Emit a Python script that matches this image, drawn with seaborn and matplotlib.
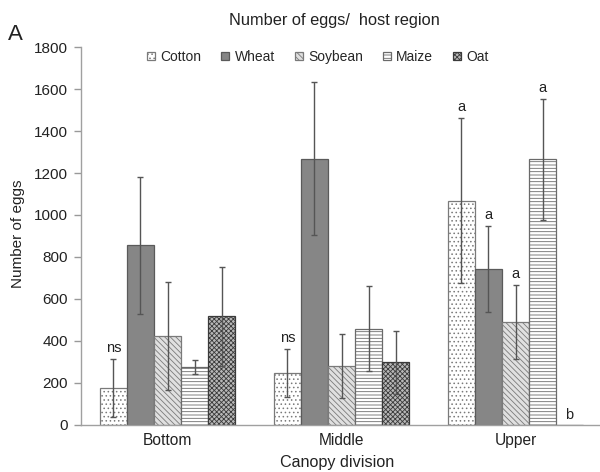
import matplotlib
matplotlib.use("Agg")
import matplotlib.pyplot as plt
import seaborn as sns
import pandas as pd
import numpy as np

categories = ["Bottom", "Middle", "Upper"]
hosts = ["Cotton", "Wheat", "Soybean", "Maize", "Oat"]
cotton = [175, 247, 1068]
cotton_err = [139, 113, 392]
wheat = [855, 1269, 743]
wheat_err = [328, 362, 204]
soybean = [424, 282, 490]
soybean_err = [258, 152, 175]
maize = [275, 458, 1265]
maize_err = [33, 203, 287]
oat = [517, 299, 0]
oat_err = [235, 150, 0]
letters = {
    "Cotton": ["ns", "ns", "a"],
    "Wheat": ["", "", "a"],
    "Soybean": ["", "", "a"],
    "Maize": ["", "", "a"],
    "Oat": ["", "", "b"],
}
yticks = [0, 200, 400, 600, 800, 1000, 1200, 1400, 1600, 1800]

values = {"Cotton": cotton, "Wheat": wheat, "Soybean": soybean, "Maize": maize, "Oat": oat}
errors = {"Cotton": cotton_err, "Wheat": wheat_err, "Soybean": soybean_err, "Maize": maize_err, "Oat": oat_err}

rows = []
for h in hosts:
    for c, v in zip(categories, values[h]):
        rows.append({"division": c, "host": h, "eggs": v})
df = pd.DataFrame(rows)

sns.set_style("white")
plt.rcParams["font.family"] = ["Liberation Sans", "DejaVu Sans"]
plt.rcParams["hatch.linewidth"] = 0.6

W, H = 600, 472
fig = plt.figure(figsize=(6, 4.72), dpi=100)
ax = fig.add_axes([80.5 / W, 47 / H, 522 / W, 378 / H])

faces = {"Cotton": "#ffffff", "Wheat": "#868686", "Soybean": "#e0e0e0", "Maize": "#ffffff", "Oat": "#b8b8b8"}
hatches = {"Cotton": "....", "Wheat": "", "Soybean": "\\\\\\\\\\\\", "Maize": "-----", "Oat": "xxxxxxx"}
hcolors = {"Cotton": "#7a7a7a", "Wheat": "#5a5a5a", "Soybean": "#7a7a7a", "Maize": "#6a6a6a", "Oat": "#3a3a3a"}

sns.barplot(data=df, x="division", y="eggs", hue="host", order=categories,
            hue_order=hosts, palette=faces, width=0.776, errorbar=None,
            ax=ax, legend=False, saturation=1)

handles = []
for h, cont in zip(hosts, ax.containers):
    for i, p in enumerate(cont.patches):
        p.set_hatch(hatches[h])
        p.set_edgecolor(hcolors[h])
        p.set_linewidth(0.9)
        x = p.get_x() + p.get_width() / 2
        v = values[h][i]
        e = errors[h][i]
        if e > 0:
            ax.errorbar(x, v, yerr=e, fmt="none", ecolor="#555555", elinewidth=1.0,
                        capsize=2.2, capthick=1.0, zorder=5)
        lab = letters[h][i]
        if lab:
            if v == 0:
                ax.annotate(lab, (x, 0), xytext=(0, 2), textcoords="offset points",
                            ha="center", va="bottom", fontsize=10.5, color="#222222")
            else:
                ax.annotate(lab, (x, v + e), xytext=(0, 3), textcoords="offset points",
                            ha="center", va="bottom", fontsize=10.5, color="#222222")
    handles.append(cont.patches[0])

ax.set_ylim(0, 1800)
ax.set_xlim(-0.5, 2.5)
ax.set_yticks(yticks)
ax.set_yticklabels([str(t) for t in yticks], fontsize=11, color="#222222")
ax.set_xticks([0, 1, 2])
ax.set_xticklabels(categories, fontsize=11.2, color="#222222")
ax.set_xticks([0.5, 1.5], minor=True)
ax.tick_params(axis="x", which="major", length=0, pad=6)
ax.tick_params(axis="x", which="minor", length=5, color="#999999", width=1, direction="out")
ax.tick_params(axis="y", length=5, color="#999999", width=1, direction="out", pad=4, left=True)
for s in ["top", "right"]:
    ax.spines[s].set_visible(False)
for s in ["left", "bottom"]:
    ax.spines[s].set_color("#a0a0a0")
    ax.spines[s].set_linewidth(1.0)
ax.set_xlabel("")
ax.set_ylabel("")

leg = fig.legend(handles=handles, labels=hosts, loc="center",
                 bbox_to_anchor=(318 / W, 1 - 57 / H), ncol=5, frameon=False,
                 fontsize=10, handlelength=0.55, handleheight=0.55, handletextpad=0.4,
                 columnspacing=1.45)

fig.text(334 / W, 1 - 20 / H, "Number of eggs/  host region", ha="center", va="center",
         fontsize=11.8, color="#222222")
fig.text(337 / W, 1 - 462 / H, "Canopy division", ha="center", va="center",
         fontsize=11.6, color="#222222")
fig.text(18 / W, 1 - 234 / H, "Number of eggs", ha="center", va="center", rotation=90,
         fontsize=11, color="#222222")
fig.text(15 / W, 1 - 35 / H, "A", ha="center", va="center", fontsize=16, color="#222222")

fig.savefig("out.png", dpi=100)
